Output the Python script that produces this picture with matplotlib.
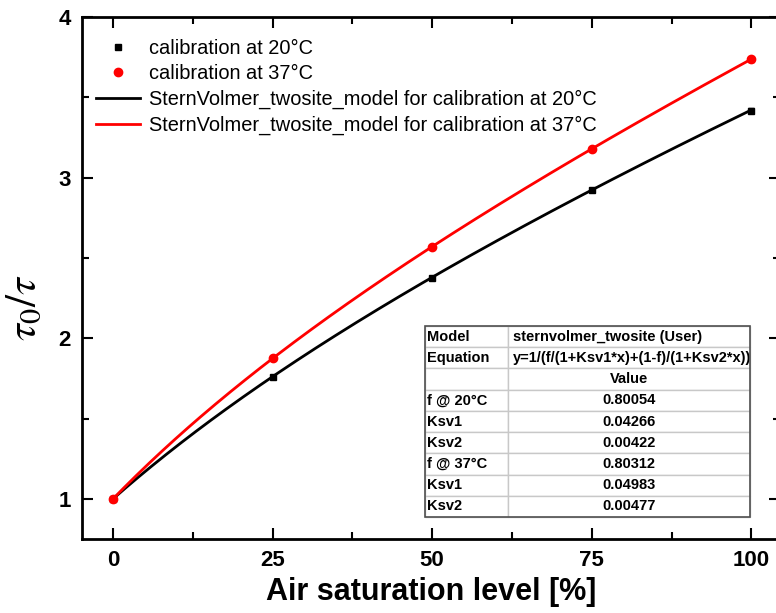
import numpy as np
import matplotlib.pyplot as plt
from matplotlib.patches import Rectangle
from matplotlib.lines import Line2D

plt.rcParams['font.family'] = ['Liberation Sans', 'DejaVu Sans']
plt.rcParams['mathtext.fontset'] = 'stix'

# measured calibration points (tau0/tau vs air saturation)
air_sat = [0, 25, 50, 75, 100]
ratio_20 = [1.0, 1.756, 2.377, 2.921, 3.418]
ratio_37 = [1.0, 1.874, 2.570, 3.180, 3.737]
err_20 = [0.01, 0.012, 0.012, 0.012, 0.015]
err_37 = [0.01, 0.012, 0.012, 0.012, 0.015]

# fitted two-site Stern-Volmer parameters
f_20, ksv1_20, ksv2_20 = 0.80054, 0.04266, 0.00422
f_37, ksv1_37, ksv2_37 = 0.80312, 0.04983, 0.00477

table_rows = [
    ["Model", "sternvolmer_twosite (User)"],
    ["Equation", "y=1/(f/(1+Ksv1*x)+(1-f)/(1+Ksv2*x))"],
    ["", "Value"],
    ["f @ 20°C", "0.80054"],
    ["Ksv1", "0.04266"],
    ["Ksv2", "0.00422"],
    ["f @ 37°C", "0.80312"],
    ["Ksv1", "0.04983"],
    ["Ksv2", "0.00477"],
]


def twosite(x, f, k1, k2):
    return 1.0 / (f / (1 + k1 * x) + (1 - f) / (1 + k2 * x))


fig = plt.figure(figsize=(7.76, 6.13), dpi=100)
ax = fig.add_axes([0.1057, 0.1207, 0.8995, 0.8515])

xx = np.linspace(0, 100, 300)
ax.plot(xx, twosite(xx, f_20, ksv1_20, ksv2_20), color='black', lw=2, zorder=2)
ax.plot(xx, twosite(xx, f_37, ksv1_37, ksv2_37), color='red', lw=2, zorder=2)

ax.errorbar(air_sat, ratio_20, yerr=err_20, fmt='s', color='black', ms=5,
            capsize=2, elinewidth=1, zorder=3)
ax.errorbar(air_sat, ratio_37, yerr=err_37, fmt='o', color='red', ms=6,
            capsize=2, elinewidth=1, zorder=3)

ax.set_xlim(-4.86, 104.5)
ax.set_ylim(0.75, 4.0)
ax.set_xticks([0, 25, 50, 75, 100])
ax.set_xticks([12.5, 37.5, 62.5, 87.5], minor=True)
ax.set_yticks([1, 2, 3, 4])
ax.set_yticks([1.5, 2.5, 3.5], minor=True)
ax.tick_params(which='both', direction='in', top=True, right=True, width=1.5)
ax.tick_params(which='major', length=8, labelsize=16, pad=8)
ax.tick_params(which='minor', length=5)
for lab in ax.get_xticklabels() + ax.get_yticklabels():
    lab.set_fontweight('bold')
for sp in ax.spines.values():
    sp.set_linewidth(2)

ax.set_xlabel('Air saturation level [%]', fontsize=22, fontweight='bold', labelpad=4)
ax.set_ylabel(r'$\tau_{\mathrm{0}}/\tau$', fontsize=31)
ax.yaxis.set_label_coords(-0.053, 0.444)

# legend: plain markers for the data, lines for the fits
leg_handles = [
    Line2D([], [], ls='none', marker='s', color='black', ms=5),
    Line2D([], [], ls='none', marker='o', color='red', ms=6),
    Line2D([], [], color='black', lw=2),
    Line2D([], [], color='red', lw=2),
]
leg_labels = [
    'calibration at 20°C',
    'calibration at 37°C',
    'SternVolmer_twosite_model for calibration at 20°C',
    'SternVolmer_twosite_model for calibration at 37°C',
]
ax.legend(leg_handles, leg_labels, loc='upper left', bbox_to_anchor=(0.0, 0.985),
          frameon=False, fontsize=14.4, handlelength=2.2, handletextpad=0.45,
          labelspacing=0.33, borderaxespad=0.3)

# parameter table in the lower right
tx, ty, tw, th = 0.4914, 0.0421, 0.4656, 0.366
tbl = ax.table(cellText=table_rows, bbox=[tx, ty, tw, th], colWidths=[0.255, 0.745],
               cellLoc='center', zorder=4)
tbl.auto_set_font_size(False)
for (r, c), cell in tbl.get_celld().items():
    cell.set_edgecolor('#c8c8c8')
    cell.set_linewidth(1)
    cell.set_facecolor('white')
    txt = cell.get_text()
    txt.set_fontsize(10.5)
    txt.set_fontweight('bold')
    if c == 0 or r < 2:
        cell.set_text_props(ha='left')
        cell.PAD = 0.02
ax.add_patch(Rectangle((tx, ty), tw, th, transform=ax.transAxes, fill=False,
                       edgecolor='#505050', lw=1.2, zorder=5))

fig.savefig('out.png', dpi=100)
